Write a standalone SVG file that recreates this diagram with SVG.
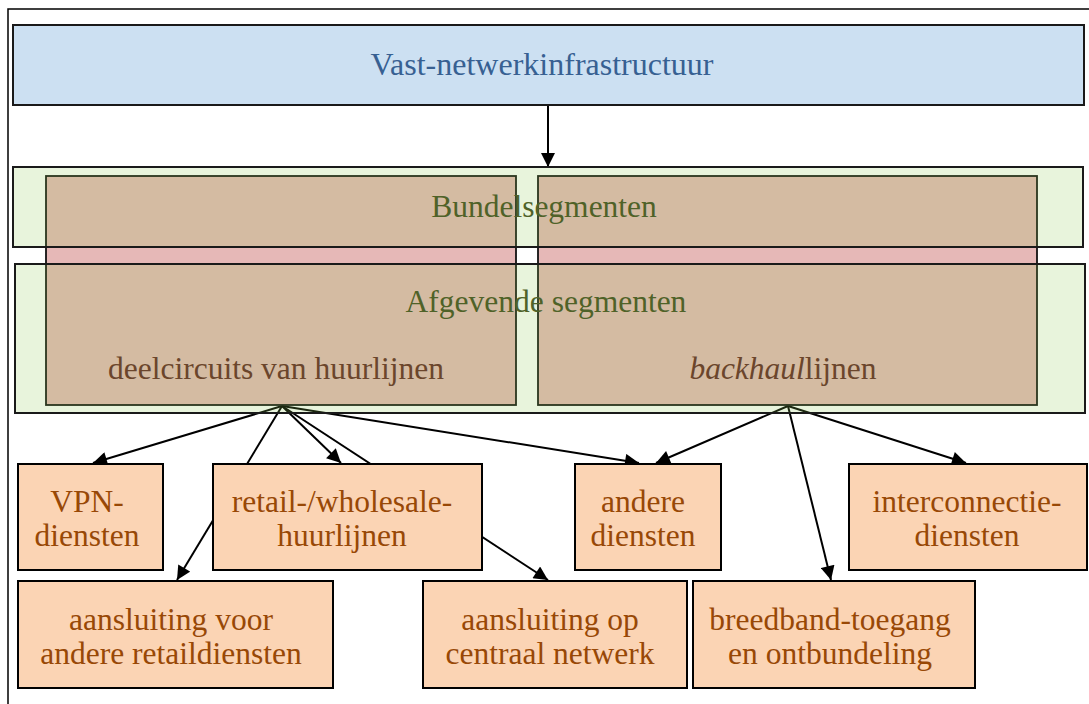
<svg xmlns="http://www.w3.org/2000/svg" width="1089" height="704" viewBox="0 0 1089 704">
<style>
  .frame{fill:none;stroke:#000;stroke-width:1.5}
  .blue{fill:#CCE0F2;stroke:#1a1a1a;stroke-width:2}
  .seg{fill:rgb(140,200,80);fill-opacity:0.2;stroke:#1a1a1a;stroke-width:2}
  .brown{fill:#E6B8B7;stroke:#111;stroke-width:1.8}
  .leaf{fill:#FBD4B4;stroke:#000;stroke-width:2}
  .conn{fill:none;stroke:#000;stroke-width:2}
  text{font-family:"Liberation Serif","Times New Roman",serif;text-anchor:middle}
  .t-blue{fill:#376092;font-size:32px}
  .t-green{fill:#4F6228;font-size:31.5px}
  .t-brown{fill:#632523;font-size:31.5px}
  .t-leaf{fill:#984806;font-size:31.5px}
</style>
<defs>
  <marker id="arr" viewBox="0 0 10 10" refX="10" refY="5" markerWidth="16" markerHeight="14" markerUnits="userSpaceOnUse" orient="auto">
    <path d="M0,0 L10,5 L0,10 z" fill="#000"/>
  </marker>
</defs>
<rect class="frame" x="8" y="9" width="1100" height="720"/>
<g id="connectors">
  <line class="conn" x1="548" y1="105" x2="548" y2="167" marker-end="url(#arr)"/>
  <line class="conn" x1="282" y1="406" x2="93" y2="463" marker-end="url(#arr)"/>
  <line class="conn" x1="282" y1="406" x2="177" y2="580" marker-end="url(#arr)"/>
  <line class="conn" x1="282" y1="406" x2="341" y2="463" marker-end="url(#arr)"/>
  <line class="conn" x1="282" y1="406" x2="548" y2="580" marker-end="url(#arr)"/>
  <line class="conn" x1="282" y1="406" x2="639" y2="463" marker-end="url(#arr)"/>
  <line class="conn" x1="788" y1="406" x2="656" y2="463" marker-end="url(#arr)"/>
  <line class="conn" x1="788" y1="406" x2="831" y2="580" marker-end="url(#arr)"/>
  <line class="conn" x1="788" y1="406" x2="966" y2="463" marker-end="url(#arr)"/>
</g>
<g id="deelcircuits">
  <rect class="brown" x="46" y="176" width="470" height="229"/>
  <text class="t-brown" x="276" y="379">deelcircuits van huurlijnen</text>
</g>
<g id="backhaul">
  <rect class="brown" x="538" y="176" width="499" height="229"/>
  <text class="t-brown" x="783" y="379"><tspan font-style="italic">backhaul</tspan>lijnen</text>
</g>
<g id="bundelsegmenten">
  <rect class="seg" x="13" y="167" width="1070" height="80"/>
  <text class="t-green" x="544" y="217">Bundelsegmenten</text>
</g>
<g id="afgevende">
  <rect class="seg" x="15" y="264" width="1070" height="149"/>
  <text class="t-green" x="546" y="312">Afgevende segmenten</text>
</g>
<g id="infrastructuur">
  <rect class="blue" x="13" y="25" width="1071" height="80"/>
  <text class="t-blue" x="542" y="75">Vast-netwerkinfrastructuur</text>
</g>
<g id="vpn">
  <rect class="leaf" x="18" y="464" width="145" height="106"/>
  <text class="t-leaf" x="87" y="512">VPN-</text>
  <text class="t-leaf" x="87" y="546">diensten</text>
</g>
<g id="retail">
  <rect class="leaf" x="213" y="464" width="269" height="106"/>
  <text class="t-leaf" x="342" y="512">retail-/wholesale-</text>
  <text class="t-leaf" x="342" y="546">huurlijnen</text>
</g>
<g id="andere">
  <rect class="leaf" x="575" y="464" width="146" height="106"/>
  <text class="t-leaf" x="643" y="512">andere</text>
  <text class="t-leaf" x="643" y="546">diensten</text>
</g>
<g id="interconnectie">
  <rect class="leaf" x="849" y="464" width="238" height="106"/>
  <text class="t-leaf" x="967" y="512">interconnectie-</text>
  <text class="t-leaf" x="967" y="546">diensten</text>
</g>
<g id="aansluiting-retail">
  <rect class="leaf" x="18" y="581" width="315" height="107"/>
  <text class="t-leaf" x="171" y="630">aansluiting voor</text>
  <text class="t-leaf" x="171" y="664">andere retaildiensten</text>
</g>
<g id="aansluiting-centraal">
  <rect class="leaf" x="423" y="581" width="264" height="107"/>
  <text class="t-leaf" x="550" y="630">aansluiting op</text>
  <text class="t-leaf" x="550" y="664">centraal netwerk</text>
</g>
<g id="breedband">
  <rect class="leaf" x="693" y="581" width="282" height="107"/>
  <text class="t-leaf" x="830" y="630">breedband-toegang</text>
  <text class="t-leaf" x="830" y="664">en ontbundeling</text>
</g>
</svg>
